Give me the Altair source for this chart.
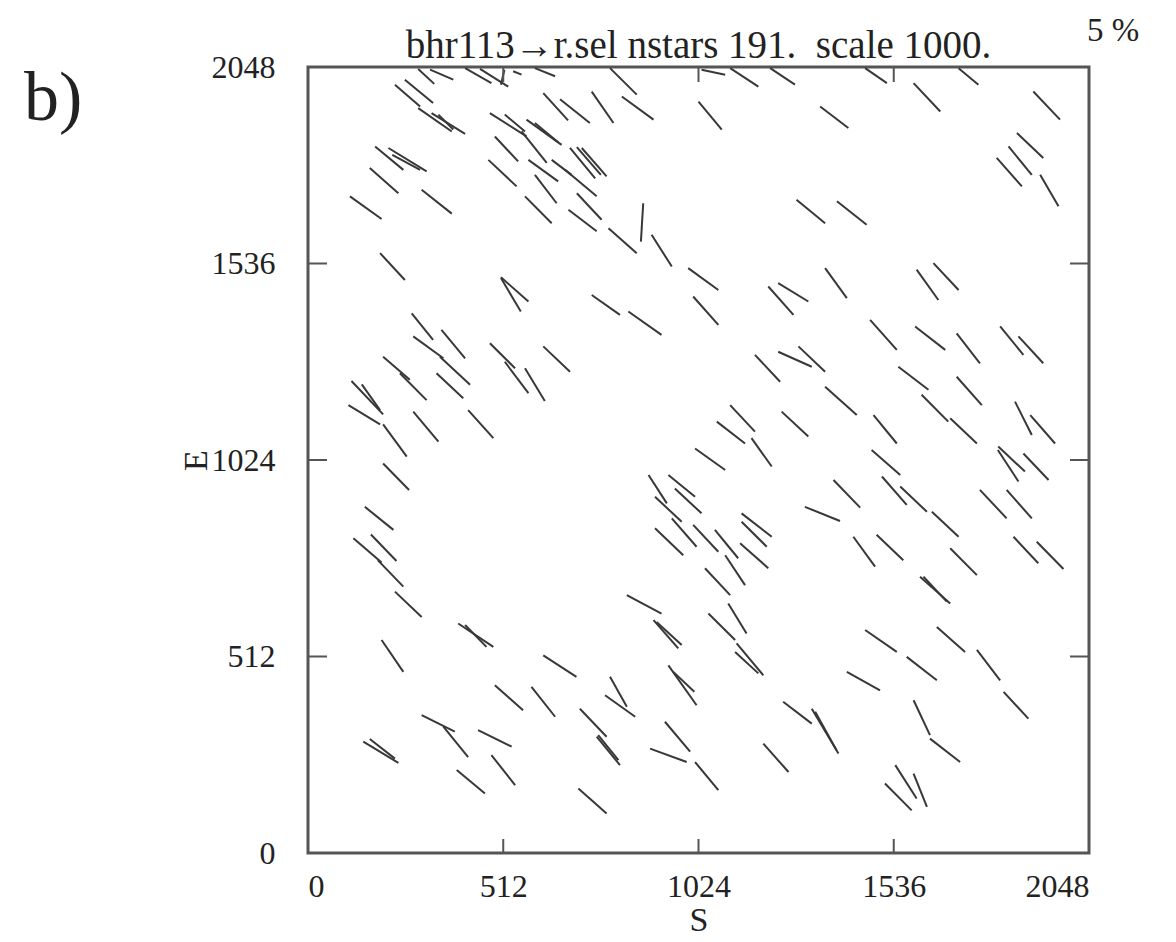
import altair as alt
import pandas as pd

# Polarization vectors (start/end in detector pixel coordinates, S and E axes)
X1 = [289, 320, 412, 451, 515, 538, 595, 228, 254, 289, 324, 342, 477, 516, 573, 595, 560, 490, 473, 578, 595, 569,
      617, 661, 639, 176, 211, 221, 162, 110, 298, 189, 506, 506,
      792, 744, 823, 1032, 1107, 1212, 1024, 1343, 687, 705, 718, 674, 705, 683, 879, 788, 901, 997, 1010, 744, 840,
      1281, 1207, 1233, 1356,
      1461, 1706, 1588, 1902, 1859, 1837, 1806, 1920, 1387, 1596, 1640,
      272, 350, 276, 346, 197, 241, 337, 477, 516, 569, 617, 114, 141, 106, 197, 276, 420, 197, 149, 119, 165, 183,
      1172, 1233, 1286, 1356, 1107, 1072, 1163, 1242, 1015, 893, 945, 962, 910, 954, 910, 1010, 1067, 1094, 1137,
      1137, 1133, 1041, 1303,
      1474, 1592, 1701, 1815, 1863, 1548, 1701, 1483, 1609, 1684, 1854, 1894, 1478, 1810, 1809, 1876, 1378, 1505,
      1553, 1636, 1762, 1832, 1430, 1491, 1684, 1850, 1911, 1605, 1614,
      228, 394, 412, 193, 617, 490, 586, 298, 355, 446, 145, 162, 481, 390,
      836, 906, 914, 1102, 1050, 1124, 1120, 792, 779, 945, 958, 713, 757, 761, 936, 897, 1015, 709, 1246, 1321,
      1330, 1194,
      1461, 1649, 1570, 1754, 1413, 1824, 1588, 1631, 1540, 1588, 1513]
Y1 = [2043, 2041, 2045, 2043, 2041, 2037, 2045, 2002, 2015, 1941, 1928, 1924, 1928, 1924, 1911, 1902, 1880, 1867,
      1806, 1806, 1767, 1711,
      1980, 1964, 1806, 1841, 1837, 1819, 1785, 1711, 1728, 1563, 1500, 1498,
      2045, 1984, 1971, 2041, 2045, 2045, 1958, 1945, 1837, 1839, 1837, 1780, 1719, 1676, 1693, 1628, 1611, 1524,
      1450, 1454, 1411, 1702, 1476, 1485, 1524,
      2045, 2045, 2006, 1984, 1876, 1841, 1811, 1767, 1698, 1520, 1537,
      1406, 1363, 1346, 1293, 1293, 1250, 1250, 1328, 1280, 1263, 1320, 1230, 1221, 1167, 1117, 1150, 1154, 1015,
      902, 820, 830, 763,
      1298, 1306, 1320, 1215, 1167, 1124, 1081, 1150, 1054, 985, 985, 950, 928, 872, 846, 855, 842, 776, 885,
      863, 807, 742, 902,
      1389, 1372, 1354, 1372, 1346, 1267, 1241, 1141, 1194, 1133, 1176, 1141, 1050, 1059, 1050, 1041, 972, 981,
      955, 889, 946, 946, 824, 829, 794, 824, 811, 720, 720,
      681, 598, 594, 555, 515, 437, 433, 359, 329, 320, 290, 297, 255, 216,
      672, 607, 602, 650, 624, 546, 524, 459, 411, 489, 472, 376, 303, 307, 342, 272, 237, 168, 394, 376,
      368, 285,
      581, 589, 511, 529, 472, 420, 398, 298, 229, 207, 181]
X2 = [331, 381, 481, 525, 506, 560, 648, 294, 328, 377, 412, 381, 573, 569, 665, 656, 626, 551, 547, 656, 652, 639,
      682, 739, 691, 250, 311, 294, 237, 193, 377, 254, 578, 558,
      862, 801, 906, 1094, 1181, 1277, 1085, 1417, 753, 768, 783, 757, 770, 757, 873, 862, 954, 1076, 1076, 818, 927,
      1356, 1273, 1312, 1413,
      1518, 1758, 1658, 1972, 1928, 1898, 1872, 1968, 1465, 1653, 1706,
      328, 412, 355, 425, 267, 311, 407, 543, 578, 621, 687, 197, 189, 189, 259, 342, 486, 265, 224, 193, 232, 250,
      1238, 1321, 1356, 1439, 1172, 1146, 1216, 1312, 1094, 941, 1015, 1032, 980, 1019, 984, 1076, 1128, 1146, 1216,
      1203, 1207, 1107, 1395,
      1544, 1671, 1762, 1876, 1928, 1627, 1767, 1544, 1679, 1754, 1898, 1959, 1553, 1880, 1863, 1942, 1448, 1570,
      1623, 1706, 1832, 1898, 1487, 1561, 1754, 1915, 1981, 1684, 1675,
      298, 486, 468, 250, 704, 564, 648, 385, 420, 534, 237, 228, 543, 464,
      927, 971, 980, 1150, 1120, 1194, 1181, 836, 858, 1019, 1013, 783, 818, 814, 1002, 993, 1076, 783, 1321, 1391,
      1386, 1260,
      1544, 1723, 1649, 1815, 1500, 1889, 1631, 1710, 1596, 1623, 1583]
Y2 = [2004, 2015, 2006, 1997, 2002, 2028, 2024, 1945, 1954, 1880, 1874, 1885, 1867, 1880, 1845, 1852, 1798, 1802,
      1737, 1750, 1693, 1641,
      1909, 1902, 1767, 1780, 1776, 1780, 1719, 1652, 1666, 1493, 1437, 1411,
      1976, 1902, 1911, 2028, 1997, 2002, 1885, 1889, 1758, 1767, 1763, 1711, 1650, 1620, 1593, 1563, 1528, 1467,
      1376, 1402, 1350, 1641, 1402, 1437, 1446,
      2006, 2002, 1932, 1911, 1811, 1767, 1737, 1685, 1637, 1441, 1467,
      1337, 1289, 1289, 1220, 1233, 1180, 1185, 1263, 1198, 1178, 1254, 1143, 1154, 1117, 1033, 1072, 1081, 946,
      842, 757, 761, 694,
      1228, 1267, 1254, 1141, 1098, 1067, 1007, 1085, 998, 911, 928, 885, 863, 798, 776, 785, 768, 698, 824,
      798, 742, 672, 865,
      1311, 1311, 1276, 1298, 1276, 1207, 1167, 1067, 1124, 1067, 1089, 1067, 985, 994, 968, 972, 900, 907,
      889, 824, 872, 872, 746, 763, 724, 755, 740, 650, 655,
      615, 537, 537, 472, 459, 372, 355, 316, 250, 277, 235, 246, 177, 155,
      624, 533, 542, 572, 555, 463, 468, 381, 355, 385, 420, 303, 229, 242, 264, 237, 164, 103, 337, 259,
      268, 211,
      524, 524, 450, 450, 424, 350, 307, 237, 142, 120, 111]

TICKS = [0, 512, 1024, 1536, 2048]
TITLE = "bhr113\u2192r.sel nstars 191.\u00a0 scale 1000."
PERCENT_LABEL = "5 %"
PANEL_LABEL = "b)"
X_TITLE = "S"
Y_TITLE = "E"

W, H = 781, 786
FONT = "Liberation Serif"
INK = "#222222"

df = pd.DataFrame({"x1": X1, "y1": Y1, "x2": X2, "y2": Y2})
ticks_df = pd.DataFrame({"t": TICKS})

xs = alt.Scale(domain=[0, 2048], nice=False, zero=False)
ys = alt.Scale(domain=[0, 2048], nice=False, zero=False)

axis_common = dict(values=TICKS, format="d", domain=False, ticks=False, tickSize=0, grid=False,
                   labelFont=FONT, labelFontSize=32, labelColor=INK,
                   titleFont=FONT, titleFontSize=34, titleFontWeight="normal", titleColor=INK)
x_axis = alt.Axis(title=X_TITLE, labelPadding=18, titleX=W / 2, titleY=50,
                  titleBaseline="top", titleAlign="center", **axis_common)
y_axis = alt.Axis(title=Y_TITLE, labelPadding=33, titleX=-112, titleY=H / 2,
                  titleAngle=270, titleAlign="center", titleBaseline="middle", **axis_common)

segs = alt.Chart(df).mark_rule(color="#383838", strokeWidth=2).encode(
    x=alt.X("x1:Q", scale=xs, axis=x_axis),
    y=alt.Y("y1:Q", scale=ys, axis=y_axis),
    x2="x2:Q",
    y2="y2:Q",
)

tick_color = "#555555"
bottom_ticks = alt.Chart(ticks_df).mark_rule(color=tick_color, strokeWidth=2).encode(
    x=alt.X("t:Q", scale=xs, axis=x_axis), y=alt.value(H), y2=alt.value(H - 14))
top_ticks = alt.Chart(ticks_df).mark_rule(color=tick_color, strokeWidth=2).encode(
    x=alt.X("t:Q", scale=xs, axis=x_axis), y=alt.value(0), y2=alt.value(15))
left_ticks = alt.Chart(ticks_df).mark_rule(color=tick_color, strokeWidth=2).encode(
    y=alt.Y("t:Q", scale=ys, axis=y_axis), x=alt.value(0), x2=alt.value(19))
right_ticks = alt.Chart(ticks_df).mark_rule(color=tick_color, strokeWidth=2).encode(
    y=alt.Y("t:Q", scale=ys, axis=y_axis), x=alt.value(W), x2=alt.value(W - 19))

frame = alt.Chart(pd.DataFrame({"k": [0]})).mark_rect(
    fill=None, fillOpacity=0, stroke="#555555", strokeWidth=3
).encode(x=alt.value(0), x2=alt.value(W), y=alt.value(0), y2=alt.value(H))

title_txt = alt.Chart(pd.DataFrame({"s": [TITLE]})).mark_text(
    font=FONT, fontSize=39, color=INK, align="center", baseline="alphabetic"
).encode(text="s:N", x=alt.value(W / 2), y=alt.value(-9))

pct_txt = alt.Chart(pd.DataFrame({"s": [PERCENT_LABEL]})).mark_text(
    font=FONT, fontSize=33, color=INK, align="left", baseline="alphabetic"
).encode(text="s:N", x=alt.value(779), y=alt.value(-26))

panel_txt = alt.Chart(pd.DataFrame({"s": [PANEL_LABEL]})).mark_text(
    font=FONT, fontSize=70, color=INK, align="left", baseline="alphabetic"
).encode(text="s:N", x=alt.value(-284), y=alt.value(53))

chart = alt.layer(
    frame, segs, bottom_ticks, top_ticks, left_ticks, right_ticks, title_txt, pct_txt, panel_txt
).properties(
    width=W, height=H, autosize="none",
    padding={"left": 308, "top": 67, "right": 87, "bottom": 89},
).configure_view(
    strokeWidth=0
).configure(background="white")

chart.save("out.html", embed_options={"renderer": "svg", "actions": False})
